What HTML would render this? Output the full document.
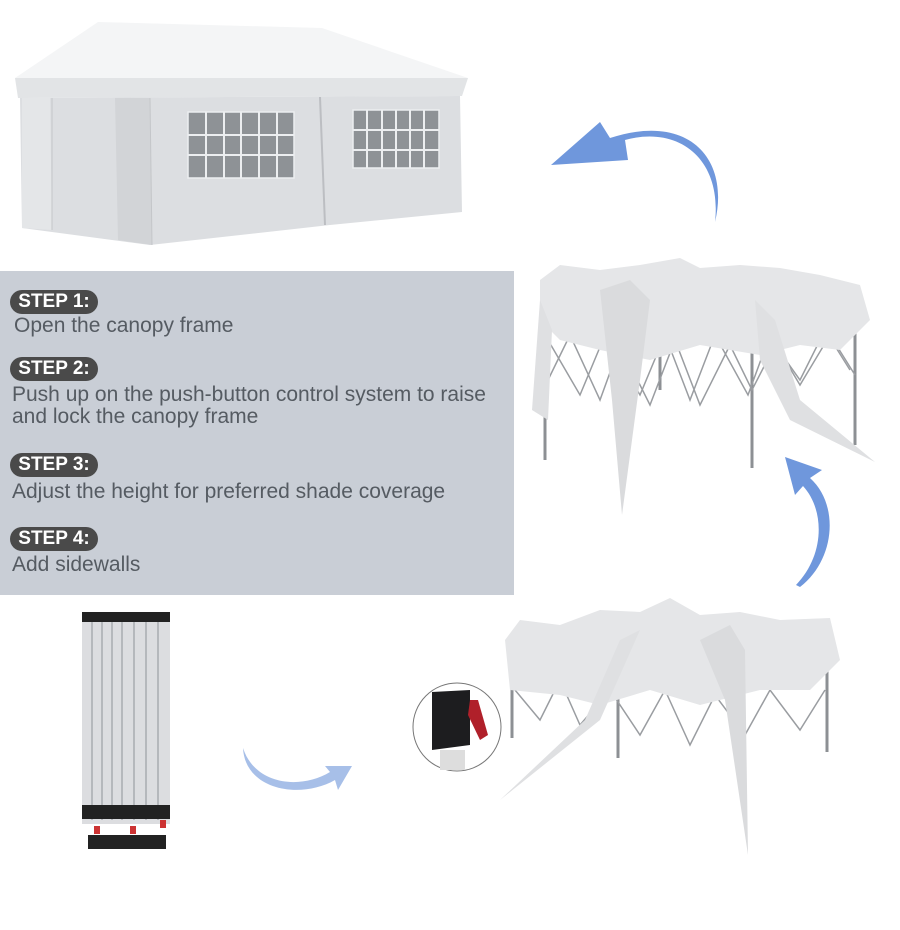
<!DOCTYPE html>
<html><head><meta charset="utf-8"><style>
html,body{margin:0;padding:0;background:#fff;}
.wrap{position:relative;width:900px;height:930px;overflow:hidden;font-family:"Liberation Sans",sans-serif;}
.panel{position:absolute;left:0;top:271px;width:514px;height:324px;background:#c9ced6;}
.badge{position:absolute;left:10px;height:24px;width:88px;border-radius:12px;background:#4a4a4a;color:#fff;font-weight:bold;font-size:19px;line-height:24px;text-align:center;}
.txt{position:absolute;left:12px;font-size:21px;color:#555b62;line-height:22px;white-space:nowrap;}
svg{position:absolute;left:0;top:0;}
</style></head><body><div class="wrap">
<svg width="900" height="930" viewBox="0 0 900 930">
<polygon points="15,78 98,22 322,28 468,78" fill="#f4f5f6"/>
<polygon points="15,78 468,78 462,96 18,98" fill="#e2e4e6"/>
<polygon points="20,98 460,96 462,212 330,225 150,245 22,228" fill="#dcdee1"/>
<polygon points="22,98 50,98 52,230 22,228" fill="#e4e6e8"/>
<polygon points="115,98 150,98 152,245 118,240" fill="#d2d4d7"/>
<line x1="320" y1="97" x2="325" y2="225" stroke="#bcbec2" stroke-width="2"/>
<line x1="52" y1="98" x2="52" y2="230" stroke="#c4c6c9"/>
<line x1="150" y1="98" x2="152" y2="245" stroke="#c4c6c9"/>
<g fill="#8e9296" stroke="#eceef0" stroke-width="1.5">
<rect x="188" y="112" width="106" height="66"/>
<rect x="353" y="110" width="86" height="58"/>
</g>
<g stroke="#eceef0" stroke-width="2">
<line x1="188" y1="155" x2="294" y2="155"/><line x1="188" y1="135" x2="294" y2="135"/>
<line x1="224" y1="112" x2="224" y2="178"/><line x1="259" y1="112" x2="259" y2="178"/>
<line x1="206" y1="112" x2="206" y2="178"/><line x1="241" y1="112" x2="241" y2="178"/><line x1="277" y1="112" x2="277" y2="178"/>
<line x1="353" y1="130" x2="439" y2="130"/><line x1="353" y1="150" x2="439" y2="150"/>
<line x1="382" y1="110" x2="382" y2="168"/><line x1="410" y1="110" x2="410" y2="168"/>
<line x1="367" y1="110" x2="367" y2="168"/><line x1="396" y1="110" x2="396" y2="168"/><line x1="424" y1="110" x2="424" y2="168"/>
</g>
<path d="M715,222 C722,160 680,125 625,140 L628,160 L551,165 L600,122 L610,138 C690,112 730,160 715,222 Z" fill="#6f97dc"/>
<g stroke="#8d9094" stroke-width="3" fill="none">
<line x1="545" y1="320" x2="545" y2="460"/><line x1="752" y1="340" x2="752" y2="468"/><line x1="855" y1="320" x2="855" y2="445"/><line x1="660" y1="330" x2="660" y2="390"/>
</g>
<g stroke="#9a9da1" stroke-width="1.5" fill="none">
<polyline points="548,380 570,335 600,400 620,345 650,405 675,340 700,405 730,345 752,390 775,345 800,380 825,330 850,370"/>
<polyline points="548,340 580,395 605,335 640,395 665,335 690,400 715,335 748,395 770,335 800,385 830,335 855,375"/>
</g>
<path d="M540,280 L560,265 L600,270 L640,265 L680,258 L700,268 L740,265 L780,268 L820,275 L860,285 L870,320 L840,350 L800,345 L760,355 L700,345 L650,360 L600,350 L560,340 L540,320 Z" fill="#e5e6e8"/>
<path d="M600,290 L630,280 L650,300 L640,380 L622,515 L612,400 Z" fill="#dadbdd"/>
<path d="M755,300 L775,320 L800,400 L875,462 L790,420 L760,360 Z" fill="#dfe0e2"/>
<path d="M540,300 L552,330 L548,420 L532,410 Z" fill="#dfe0e2"/>
<path d="M800,587 C835,560 840,505 810,478 L822,470 L785,457 L795,495 L803,486 C825,510 825,555 796,585 Z" fill="#6f97dc"/>
<rect x="82" y="614" width="88" height="210" fill="#dcdde0"/>
<g stroke="#a8abaf" stroke-width="1.5">
<line x1="92" y1="614" x2="92" y2="820"/><line x1="102" y1="614" x2="102" y2="820"/><line x1="112" y1="614" x2="112" y2="820"/><line x1="122" y1="614" x2="122" y2="820"/><line x1="134" y1="614" x2="134" y2="820"/><line x1="146" y1="614" x2="146" y2="820"/><line x1="158" y1="614" x2="158" y2="820"/>
</g>
<g fill="#222"><rect x="82" y="612" width="88" height="10"/><rect x="82" y="805" width="88" height="14"/><rect x="88" y="835" width="78" height="14"/></g>
<g fill="#c33"><rect x="94" y="826" width="6" height="8"/><rect x="130" y="826" width="6" height="8"/><rect x="160" y="820" width="6" height="8"/></g>
<path d="M243,748 C245,790 300,800 335,780 L338,790 L352,766 L325,766 L330,772 C300,790 255,785 243,748 Z" fill="#a7bfe8"/>
<g stroke="#8d9094" stroke-width="3" fill="none">
<line x1="512" y1="660" x2="512" y2="738"/><line x1="618" y1="690" x2="618" y2="758"/><line x1="827" y1="660" x2="827" y2="752"/>
</g>
<g stroke="#9a9da1" stroke-width="1.5" fill="none">
<polyline points="515,690 540,720 560,680 580,725 610,690 640,735 665,690 690,745 715,695 745,735 770,690 800,730 825,690"/>
</g>
<path d="M505,640 L520,620 L560,625 L600,610 L640,612 L670,598 L700,615 L740,612 L780,620 L830,618 L840,660 L810,690 L760,690 L700,705 L650,690 L600,705 L560,695 L510,690 Z" fill="#e5e6e8"/>
<path d="M700,640 L730,625 L745,650 L748,855 L725,700 Z" fill="#dadbdd"/>
<path d="M620,640 L640,630 L600,720 L500,800 L585,720 Z" fill="#dfe0e2"/>
<circle cx="457" cy="727" r="44" fill="#fff" stroke="#777" stroke-width="1"/>
<path d="M432,692 L470,690 L470,745 L432,750 Z" fill="#1d1d1f"/>
<rect x="440" y="750" width="25" height="20" fill="#ddd"/>
<path d="M470,700 L478,700 L488,735 L480,740 L468,715 Z" fill="#b0202a"/>
</svg>
<div class="panel">
<div class="badge" style="top:19px">STEP 1:</div>
<div class="txt" style="top:44px;left:14px">Open the canopy frame</div>
<div class="badge" style="top:86px">STEP 2:</div>
<div class="txt" style="top:113px">Push up on the push-button control system to raise</div>
<div class="txt" style="top:135px">and lock the canopy frame</div>
<div class="badge" style="top:182px">STEP 3:</div>
<div class="txt" style="top:210px">Adjust the height for preferred shade coverage</div>
<div class="badge" style="top:256px">STEP 4:</div>
<div class="txt" style="top:283px">Add sidewalls</div>
</div>
</div></body></html>
